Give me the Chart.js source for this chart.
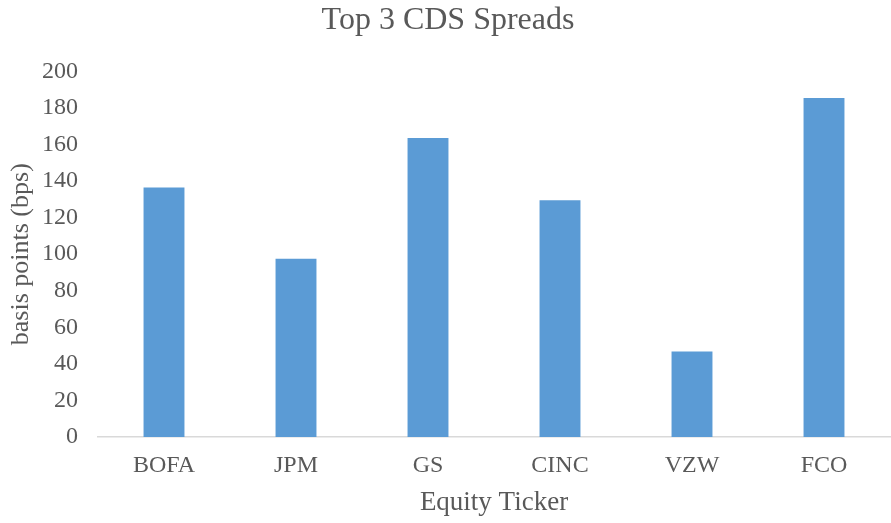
<!DOCTYPE html>
<html lang="en">
<head>
    <meta charset="UTF-8">
    <title>Top 3 CDS Spreads</title>
    <script src="https://cdn.jsdelivr.net/npm/chart.js"></script>
    <style>
        html, body { margin: 0; padding: 0; background: #ffffff; }
        #box { width: 891px; height: 523px; }
    </style>
</head>
<body>
    <div id="box">
        <canvas id="grafico"></canvas>
    </div>

    <script>
        // dados do gráfico
        const tickers = ["BOFA", "JPM", "GS", "CINC", "VZW", "FCO"];
        const spreads = [136.5, 97.5, 163.5, 129.5, 46.8, 185.5];
        const yTicks = [0, 20, 40, 60, 80, 100, 120, 140, 160, 180, 200];

        const corTexto = '#595959';
        const fonte = "'Liberation Serif', 'Times New Roman', serif";

        const ctx = document.getElementById('grafico');

        new Chart(ctx, {
            type: 'bar',
            data: {
                labels: tickers,
                datasets: [{
                    label: 'Spread',
                    data: spreads,
                    backgroundColor: '#5b9bd5',
                    borderWidth: 0,
                    categoryPercentage: 1,
                    barPercentage: 0.31
                }]
            },
            options: {
                responsive: true,
                maintainAspectRatio: false,
                animation: false,
                layout: { padding: { left: 6, right: 1, top: 1, bottom: 4 } },
                plugins: {
                    legend: { display: false },
                    tooltip: { enabled: false },
                    title: {
                        display: true,
                        text: 'Top 3 CDS Spreads',
                        color: corTexto,
                        font: { family: fonte, size: 32, weight: 'normal' },
                        padding: { top: 0, bottom: 32 }
                    }
                },
                scales: {
                    x: {
                        afterFit: (scale) => { scale.height = 82; }, // altura fixa do eixo X
                        grid: { display: false, drawTicks: false },
                        border: { color: '#d9d9d9', width: 1.5 },
                        ticks: {
                            color: corTexto,
                            font: { family: fonte, size: 24 },
                            padding: 14
                        },
                        title: {
                            display: true,
                            text: 'Equity Ticker',
                            color: corTexto,
                            font: { family: fonte, size: 27 },
                            padding: { top: 7, bottom: 0 }
                        }
                    },
                    y: {
                        min: 0,
                        max: 200,
                        afterBuildTicks: (axis) => {
                            axis.ticks = yTicks.map(v => ({ value: v }));
                        },
                        afterFit: (scale) => { scale.width = 92; }, // largura fixa do eixo Y
                        grid: { display: false, drawTicks: false },
                        border: { display: false },
                        ticks: {
                            color: corTexto,
                            font: { family: fonte, size: 24 },
                            padding: 20
                        },
                        title: {
                            display: true,
                            text: 'basis points (bps)',
                            color: corTexto,
                            font: { family: fonte, size: 26 },
                            padding: { top: 0, bottom: 4 }
                        }
                    }
                }
            }
        });
    </script>
</body>
</html>
